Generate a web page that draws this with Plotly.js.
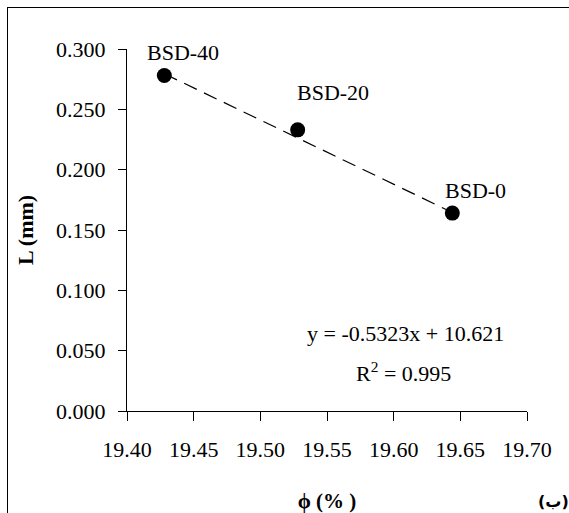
<!DOCTYPE html>
<html>
<head>
<meta charset="utf-8">
<script src="https://cdn.plot.ly/plotly-3.0.1.min.js"></script>
<style>
  html, body { margin: 0; padding: 0; background: #fff; overflow: hidden; }
  #frame { position: absolute; left: 7px; top: 7px; width: 700px; height: 700px; border: 1.5px solid #000; box-sizing: border-box; pointer-events: none; }
  #chart { position: absolute; left: 0; top: 0; width: 569px; height: 513px; }
</style>
</head>
<body>
<div id="chart"></div>
<div id="frame"></div>
<script>
// Data
const sampleNames = ["BSD-40", "BSD-20", "BSD-0"];
const porosity = [19.428, 19.528, 19.644];     // phi (%)
const lengthMm = [0.278, 0.233, 0.164];       // L (mm)
const fitSlope = -0.5323;
const fitIntercept = 10.621;
const fitR2 = 0.995;
const xTickVals = [19.40, 19.45, 19.50, 19.55, 19.60, 19.65, 19.70];
const xTickText = ["19.40", "19.45", "19.50", "19.55", "19.60", "19.65", "19.70"];
const yTickVals = [0, 0.05, 0.10, 0.15, 0.20, 0.25, 0.30];
const yTickText = ["0.000", "0.050", "0.100", "0.150", "0.200", "0.250", "0.300"];

const serif = "Liberation Serif";

// Trend line from the fitted equation, spanning the data
const xMin = Math.min(...porosity), xMax = Math.max(...porosity);
const trendX = [xMin, xMax];
const trendY = trendX.map(v => fitSlope * v + fitIntercept);

const traces = [
  {
    x: trendX, y: trendY, type: "scatter", mode: "lines",
    line: { color: "#000", width: 1.2, dash: "14px,8px" },
    hoverinfo: "skip", showlegend: false
  },
  {
    x: porosity, y: lengthMm, type: "scatter", mode: "markers",
    marker: { color: "#000", size: 15, symbol: "circle" },
    showlegend: false
  }
];

const labelShift = [[19, 23], [35, 37], [23, 23]];
const annotations = sampleNames.map((name, i) => ({
  x: porosity[i], y: lengthMm[i], xref: "x", yref: "y",
  text: name, showarrow: false, xanchor: "center", yanchor: "middle",
  xshift: labelShift[i][0], yshift: labelShift[i][1],
  font: { family: serif, size: 22, color: "#000" }
}));

annotations.push({
  xref: "paper", yref: "paper", x: 0.697, y: 0.2148, xanchor: "center", yanchor: "middle",
  text: "y = " + fitSlope.toFixed(4) + "x + " + fitIntercept.toFixed(3),
  showarrow: false, font: { family: serif, size: 22, color: "#000" }
});
annotations.push({
  xref: "paper", yref: "paper", x: 0.69, y: 0.107, xanchor: "center", yanchor: "middle",
  text: "R<sup>2</sup> = " + fitR2.toFixed(3),
  showarrow: false, font: { family: serif, size: 22, color: "#000" }
});
annotations.push({
  xref: "paper", yref: "paper", x: 1.065, y: -0.2497, xanchor: "center", yanchor: "middle",
  text: "<b>\u202D(ب)\u202C</b>", showarrow: false,
  font: { family: "DejaVu Sans", size: 16, color: "#000" }
});

const layout = {
  width: 569, height: 513,
  margin: { l: 126.7, r: 41.7, t: 49, b: 102.3, pad: 0 },
  paper_bgcolor: "rgba(0,0,0,0)", plot_bgcolor: "rgba(0,0,0,0)",
  showlegend: false,
  font: { family: serif, size: 22, color: "#000" },
  xaxis: {
    range: [19.40, 19.70], tickvals: xTickVals, ticktext: xTickText,
    ticks: "outside", ticklen: 9, tickwidth: 1, tickcolor: "#000",
    showline: true, linecolor: "#000", linewidth: 1,
    showgrid: false, zeroline: false, ticklabelstandoff: 10,
    tickfont: { family: serif, size: 22, color: "#000" },
    title: { text: "<b>ϕ (% )</b>", font: { family: serif, size: 21, color: "#000" }, standoff: 32 }
  },
  yaxis: {
    range: [0, 0.30], tickvals: yTickVals, ticktext: yTickText,
    ticks: "outside", ticklen: 8, tickwidth: 1, tickcolor: "#000",
    showline: true, linecolor: "#000", linewidth: 1,
    showgrid: false, zeroline: false, ticklabelstandoff: 8,
    tickfont: { family: serif, size: 22, color: "#000" },
    title: { text: "<b>L (mm)</b>", font: { family: serif, size: 22, color: "#000" }, standoff: 16 }
  },
  annotations: annotations
};

Plotly.newPlot("chart", traces, layout, { displayModeBar: false, staticPlot: true });
</script>
</body>
</html>
